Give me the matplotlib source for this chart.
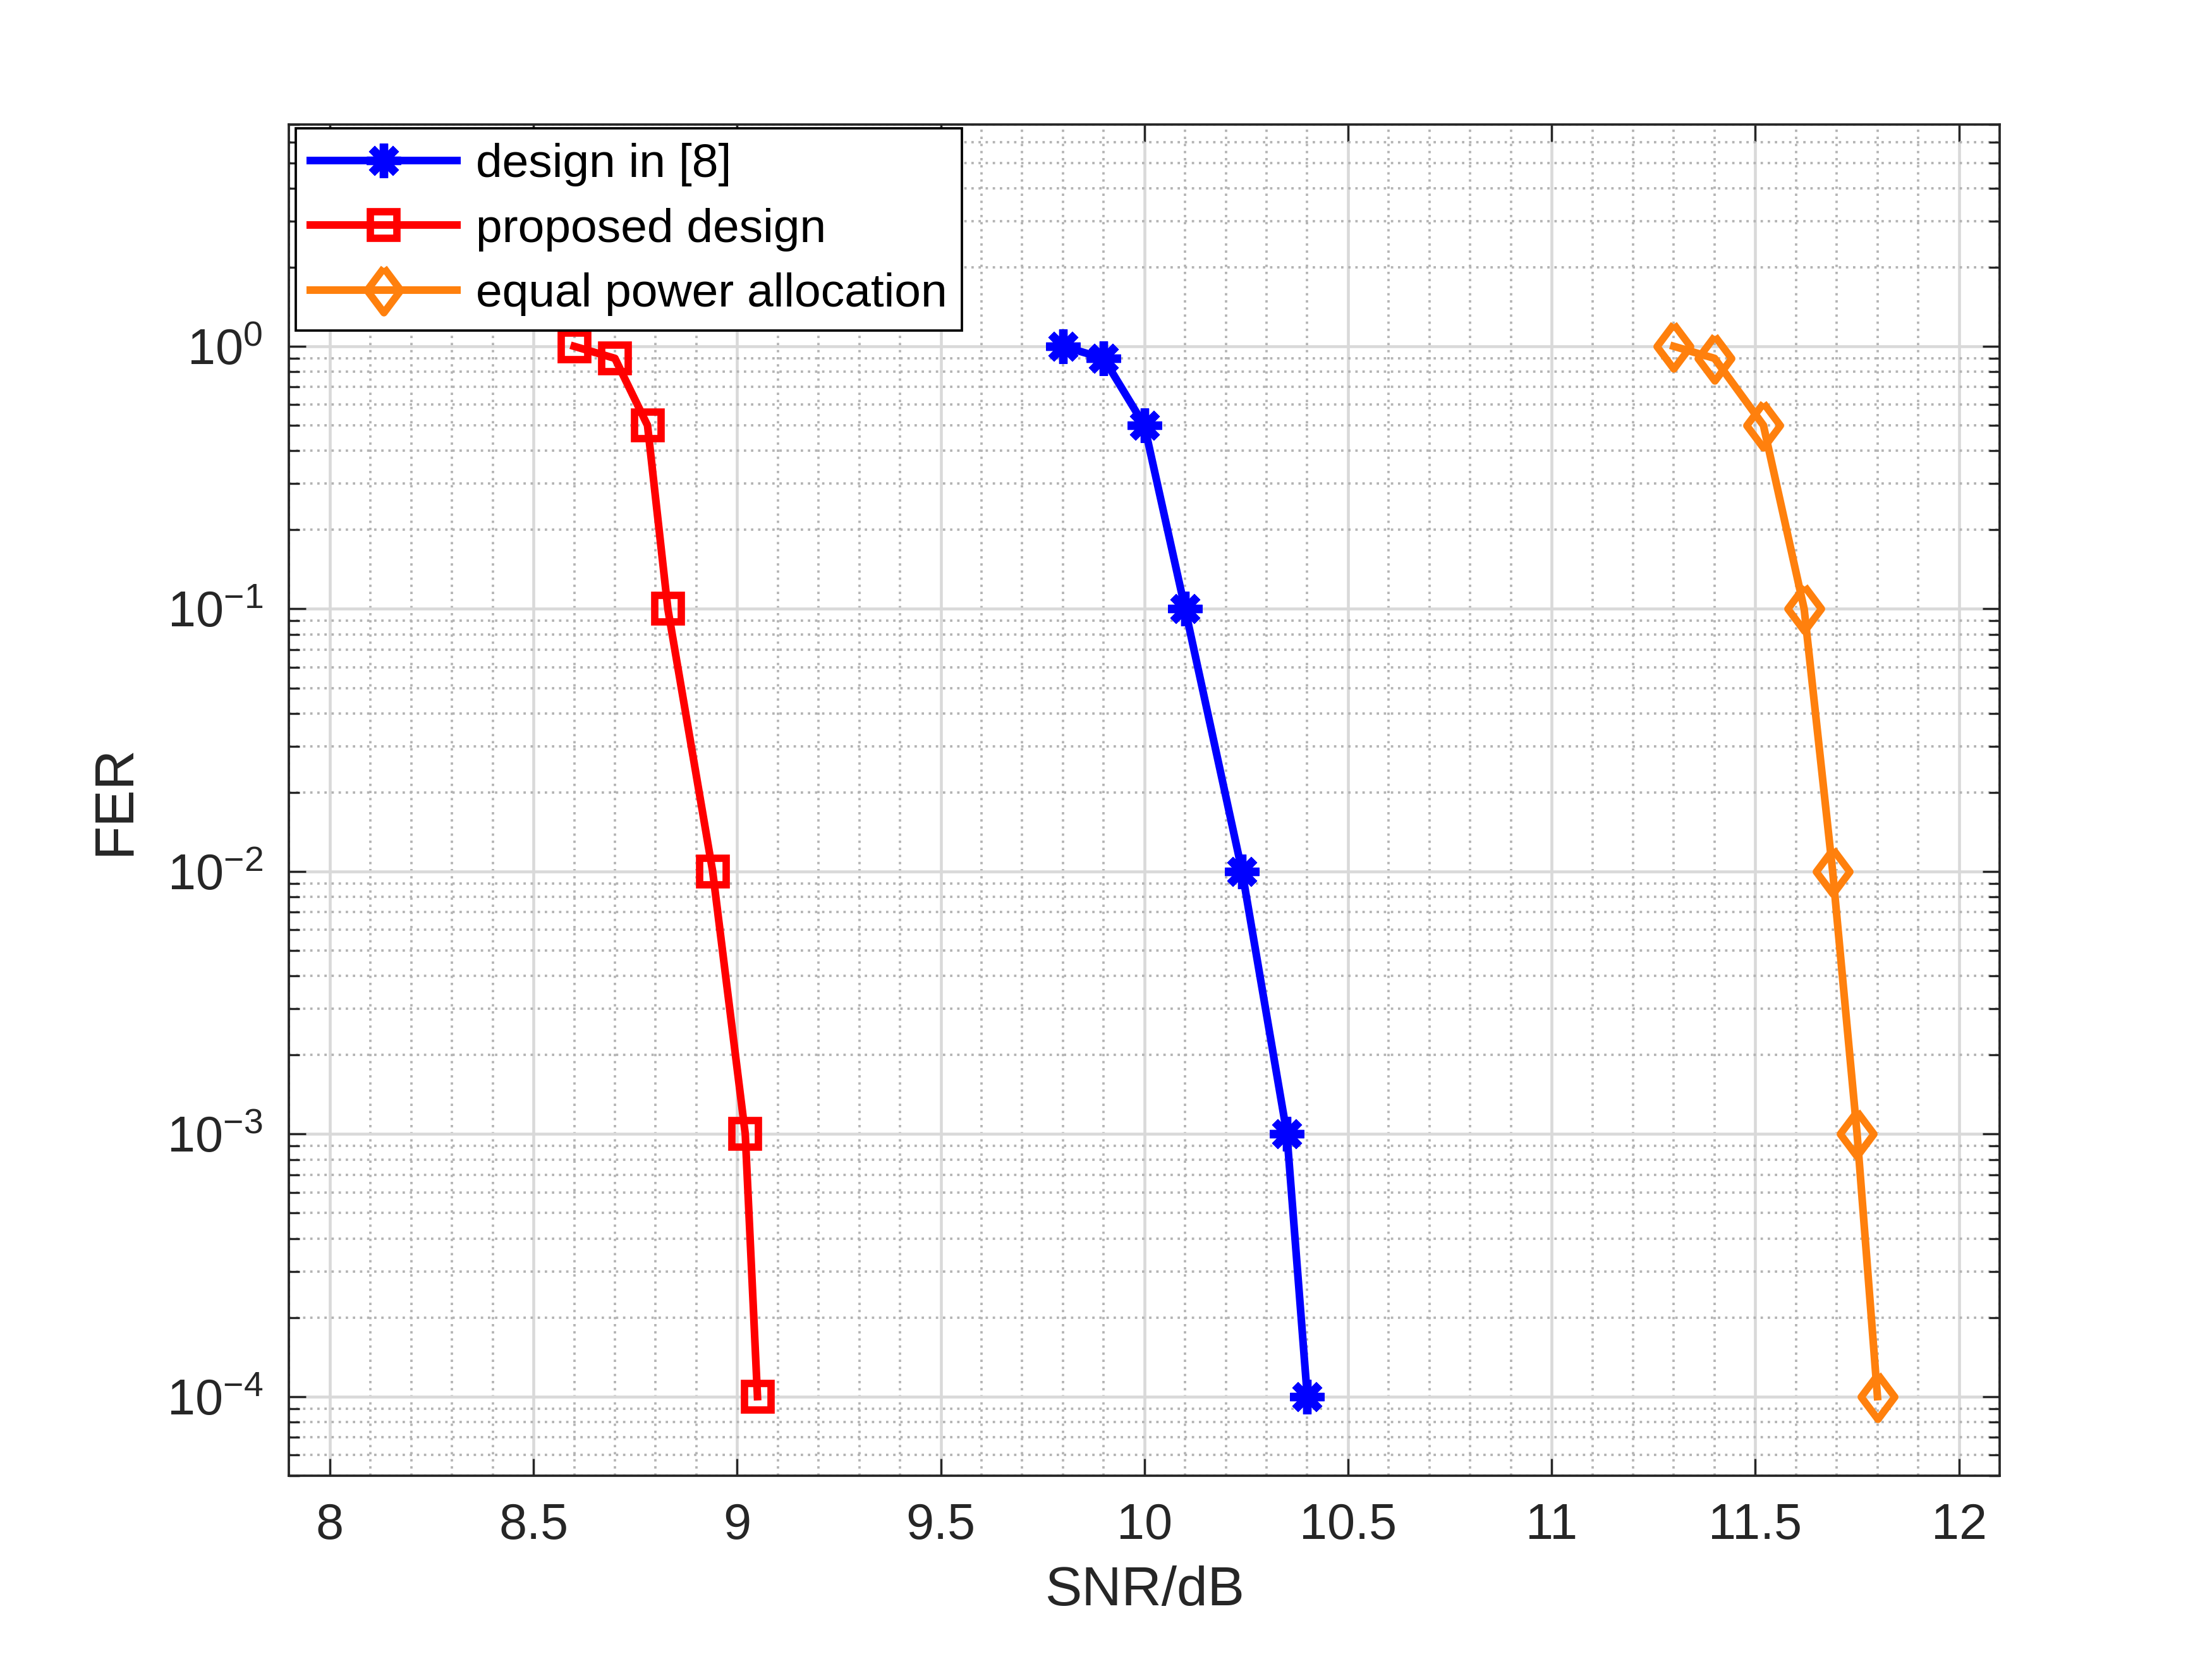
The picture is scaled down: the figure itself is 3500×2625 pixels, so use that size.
import numpy as np
import matplotlib
matplotlib.use("Agg")
import matplotlib.pyplot as plt
from matplotlib.ticker import MultipleLocator, LogLocator, NullFormatter

plt.rcParams['font.family'] = ['Liberation Sans', 'DejaVu Sans']
plt.rcParams['mathtext.fontset'] = 'custom'
plt.rcParams['mathtext.rm'] = 'Liberation Sans'
plt.rcParams['mathtext.it'] = 'Liberation Sans'

# data
fer = [1, 0.9, 0.5, 0.1, 1e-2, 1e-3, 1e-4]
snr_ref8 = [9.8, 9.9, 10.0, 10.1, 10.24, 10.35, 10.4]
snr_proposed = [8.6, 8.7, 8.78, 8.83, 8.94, 9.02, 9.05]
snr_equal = [11.3, 11.4, 11.52, 11.62, 11.69, 11.75, 11.8]
labels = ['design in [8]', 'proposed design', 'equal power allocation']
xticks = np.arange(8, 12.01, 0.5)

axcol = '#262626'
fig = plt.figure(figsize=(3500 / 300, 2625 / 300), dpi=300)
ax = fig.add_axes([0.1307, 0.1105, 0.7733, 0.8145])

diamond = [(0, 1), (0.75, 0), (0, -1), (-0.75, 0), (0, 1)]
ax.plot(snr_ref8, fer, color=(0, 0, 1), lw=2.9, marker=(8, 2, 0), ms=13,
        mew=3.2, label=labels[0])
ax.plot(snr_proposed, fer, color=(1, 0, 0), lw=2.9, marker='s', ms=10,
        mew=2.8, mfc='none', label=labels[1])
ax.plot(snr_equal, fer, color=(1, 0.5, 0.05), lw=2.9, marker=diamond, ms=17,
        mew=2.8, mfc='none', label=labels[2])

ax.set_yscale('log')
ax.set_xlim(7.9, 12.1)
ax.set_ylim(5e-5, 7)
ax.set_xticks(xticks)
ax.set_xticklabels(['%g' % v for v in xticks])
ax.xaxis.set_minor_locator(MultipleLocator(0.1))
ax.yaxis.set_major_locator(LogLocator(base=10, numticks=10))
ax.yaxis.set_minor_locator(LogLocator(base=10, subs=np.arange(2, 10), numticks=20))
ax.yaxis.set_minor_formatter(NullFormatter())

ax.grid(True, which='major', color='#d9d9d9', lw=1.1, ls='-')
ax.grid(True, which='minor', color='#b3b3b3', lw=0.9, ls=(0, (1, 2)))
ax.set_axisbelow(True)

ax.tick_params(which='both', direction='in', top=True, right=True,
               colors=axcol, labelsize=19, width=0.8)
ax.tick_params(which='major', length=6.5, pad=10)
ax.tick_params(axis='y', which='minor', length=4)
ax.tick_params(axis='x', which='minor', length=0)
for s in ax.spines.values():
    s.set_color(axcol)
    s.set_linewidth(0.9)

ax.set_xlabel('SNR/dB', fontsize=21, color=axcol, labelpad=6)
ax.set_ylabel('FER', fontsize=21, color=axcol, labelpad=10)

leg = ax.legend(loc='upper left', bbox_to_anchor=(0.004, 0.997), fontsize=18,
                frameon=True, fancybox=False, framealpha=1, edgecolor='black',
                borderaxespad=0, handlelength=3.1, handletextpad=0.4,
                labelspacing=0.45, borderpad=0.3)
leg.get_frame().set_linewidth(0.9)

fig.savefig('out.png', dpi=300)
